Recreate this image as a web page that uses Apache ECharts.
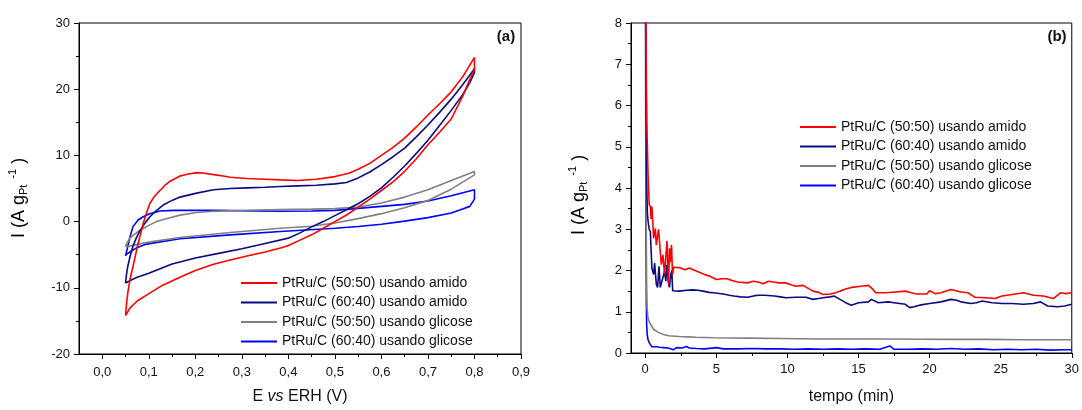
<!DOCTYPE html>
<html>
<head>
<meta charset="utf-8">
<script src="https://cdn.jsdelivr.net/npm/echarts@6/dist/echarts.min.js"></script>
<style>
html,body{margin:0;padding:0;background:#fff;}
#chart{width:1082px;height:410px;}
</style>
</head>
<body>
<div id="chart"></div>
<script>
// ---------- data ----------
const seriesNames = [
  'PtRu/C (50:50) usando amido',
  'PtRu/C (60:40) usando amido',
  'PtRu/C (50:50) usando glicose',
  'PtRu/C (60:40) usando glicose'
];
const seriesColors = ['#ff0000', '#0a0a82', '#808080', '#0000ff'];

// (a) cyclic voltammetry: [E (V vs ERH), I (A g_Pt^-1)]
const cvAmido5050 = [
  [0.050,-14.2],[0.052,-12.5],[0.055,-10.7],[0.060,-8.6],[0.066,-6.8],[0.077,-3.3],[0.088,-0.3],
  [0.095,1.3],[0.102,2.7],[0.112,3.8],[0.124,4.7],[0.135,5.5],[0.146,6.1],[0.167,6.9],[0.185,7.2],
  [0.203,7.4],[0.220,7.3],[0.239,7.1],[0.260,6.9],[0.275,6.7],[0.311,6.5],[0.350,6.4],[0.383,6.3],
  [0.420,6.2],[0.460,6.4],[0.500,6.8],[0.530,7.3],[0.550,7.9],[0.575,8.8],[0.600,10.0],[0.625,11.2],
  [0.650,12.6],[0.675,14.3],[0.700,16.1],[0.725,17.8],[0.750,19.6],[0.775,21.9],[0.800,24.8],
  [0.800,23.0],[0.790,21.5],[0.775,19.0],[0.750,15.5],[0.725,13.5],[0.700,11.6],[0.675,9.5],
  [0.650,7.6],[0.625,6.0],[0.600,4.7],[0.575,3.4],[0.550,2.2],[0.525,1.0],[0.500,0.0],[0.475,-1.0],
  [0.450,-2.0],[0.425,-2.8],[0.400,-3.6],[0.383,-4.0],[0.350,-4.6],[0.311,-5.2],[0.275,-5.8],
  [0.239,-6.45],[0.200,-7.4],[0.167,-8.4],[0.130,-9.6],[0.095,-11.1],[0.075,-12.0],[0.059,-13.1],
  [0.050,-14.2]
];
const cvAmido6040 = [
  [0.050,-9.3],[0.052,-8.0],[0.055,-6.7],[0.060,-5.2],[0.066,-3.7],[0.073,-2.5],[0.080,-1.5],
  [0.090,-0.4],[0.102,0.7],[0.115,1.6],[0.131,2.5],[0.150,3.2],[0.167,3.7],[0.185,4.0],[0.203,4.3],
  [0.239,4.8],[0.275,5.0],[0.311,5.1],[0.350,5.2],[0.383,5.3],[0.420,5.4],[0.460,5.5],[0.500,5.7],
  [0.525,5.9],[0.550,6.6],[0.575,7.5],[0.600,8.6],[0.625,9.8],[0.650,11.1],[0.675,12.8],[0.700,14.6],
  [0.725,16.5],[0.750,18.5],[0.775,20.7],[0.800,23.1],
  [0.800,22.5],[0.790,21.0],[0.775,19.2],[0.750,16.8],[0.725,14.5],[0.700,12.3],[0.675,10.3],
  [0.650,8.4],[0.625,6.7],[0.600,5.1],[0.575,3.8],[0.550,2.7],[0.525,1.8],[0.500,0.9],[0.475,0.0],
  [0.450,-0.8],[0.425,-1.7],[0.400,-2.5],[0.350,-3.3],[0.300,-4.1],[0.250,-4.8],[0.200,-5.5],
  [0.150,-6.4],[0.100,-7.8],[0.075,-8.4],[0.060,-8.9],[0.050,-9.3]
];
const cvGlicose5050 = [
  [0.050,-3.7],[0.059,-2.5],[0.077,-1.5],[0.095,-0.76],[0.116,0.0],[0.146,0.58],[0.167,0.98],
  [0.203,1.37],[0.239,1.57],[0.311,1.72],[0.383,1.81],[0.450,1.88],[0.500,1.96],[0.550,2.2],
  [0.600,2.8],[0.650,3.7],[0.700,4.8],[0.750,6.2],[0.800,7.55],
  [0.800,7.06],[0.750,4.9],[0.700,3.2],[0.650,2.1],[0.600,1.2],[0.550,0.45],[0.500,-0.2],
  [0.450,-0.7],[0.383,-1.0],[0.275,-1.65],[0.167,-2.4],[0.100,-3.1],[0.059,-3.7],[0.050,-3.8]
];
const cvGlicose6040 = [
  [0.050,-5.2],[0.055,-3.7],[0.060,-2.2],[0.066,-0.76],[0.077,0.24],[0.088,0.73],[0.102,1.2],
  [0.124,1.6],[0.153,1.7],[0.239,1.7],[0.383,1.57],[0.450,1.6],[0.500,1.7],[0.550,2.0],
  [0.600,2.3],[0.650,2.6],[0.700,3.1],[0.750,3.9],[0.800,4.8],
  [0.800,3.4],[0.790,2.3],[0.770,1.8],[0.750,1.3],[0.700,0.6],[0.650,0.07],[0.600,-0.4],
  [0.550,-0.75],[0.500,-1.0],[0.383,-1.5],[0.275,-2.0],[0.167,-2.6],[0.095,-3.4],[0.073,-4.0],
  [0.059,-4.6],[0.051,-5.0],[0.050,-5.2]
];

// (b) chronoamperometry: [tempo (min), I (A g_Pt^-1)]
const caAmido5050 = [
  [0.03,9.0],[0.08,6.5],[0.13,5.3],[0.20,4.3],[0.28,3.6],[0.36,3.55],[0.41,3.25],[0.47,3.55],
  [0.59,2.78],[0.71,3.02],[0.78,2.62],[0.94,3.0],[1.13,2.14],[1.25,2.38],[1.36,1.9],[1.53,2.72],
  [1.64,1.67],[1.71,2.54],[1.76,2.2],[1.85,2.62],[1.92,1.9],[2.0,2.08],[2.4,2.07],[2.8,2.02],
  [3.1,2.06],[3.5,2.0],[3.8,1.96],[4.2,1.9],[4.55,1.86],[5.0,1.78],[5.4,1.80],[5.76,1.80],
  [6.1,1.76],[6.5,1.72],[7.2,1.70],[7.6,1.74],[7.94,1.72],[8.3,1.68],[8.66,1.74],[9.0,1.72],
  [9.4,1.70],[9.87,1.70],[10.2,1.66],[10.6,1.62],[11.1,1.64],[11.5,1.56],[11.8,1.50],[12.2,1.47],
  [12.5,1.42],[13.0,1.43],[13.4,1.46],[13.7,1.50],[14.1,1.55],[14.5,1.59],[15.2,1.62],[15.7,1.64],
  [16.0,1.55],[16.2,1.46],[16.9,1.46],[17.6,1.48],[18.3,1.50],[18.7,1.46],[19.1,1.43],[19.8,1.43],
  [20.0,1.51],[20.4,1.44],[20.8,1.46],[21.5,1.54],[22.2,1.48],[22.7,1.46],[23.2,1.35],[23.9,1.34],
  [24.6,1.32],[25.1,1.38],[25.8,1.42],[26.6,1.46],[27.3,1.40],[28.0,1.38],[28.7,1.32],[29.2,1.46],
  [29.6,1.44],[30.0,1.46]
];
const caAmido6040 = [
  [0.02,9.0],[0.06,6.0],[0.10,4.2],[0.15,3.4],[0.20,3.2],[0.28,3.0],[0.36,2.94],[0.47,2.06],
  [0.59,1.9],[0.66,2.18],[0.78,1.67],[0.87,1.59],[0.97,2.1],[1.06,1.59],[1.20,1.62],[1.36,1.98],
  [1.45,1.74],[1.53,2.14],[1.62,1.75],[1.70,1.59],[1.80,1.9],[1.87,2.0],[1.93,1.51],[2.0,1.52],
  [2.4,1.50],[2.9,1.52],[3.34,1.53],[3.7,1.52],[4.06,1.50],[4.5,1.47],[4.8,1.46],[5.5,1.43],
  [5.9,1.40],[6.24,1.38],[6.7,1.36],[7.2,1.35],[7.7,1.39],[8.0,1.40],[8.4,1.40],[9.1,1.38],
  [9.5,1.36],[9.9,1.34],[10.6,1.35],[11.3,1.35],[11.8,1.30],[12.2,1.32],[12.5,1.34],[13.0,1.36],
  [13.3,1.38],[13.7,1.30],[14.1,1.22],[14.5,1.16],[15.0,1.22],[15.7,1.24],[15.9,1.30],[16.4,1.22],
  [17.1,1.24],[17.5,1.22],[17.9,1.20],[18.3,1.18],[18.6,1.10],[18.9,1.12],[19.3,1.16],[20.0,1.20],
  [20.8,1.24],[21.5,1.30],[21.9,1.28],[22.2,1.24],[22.9,1.20],[23.3,1.22],[23.7,1.26],[24.4,1.22],
  [25.1,1.20],[25.8,1.20],[26.6,1.18],[27.3,1.20],[27.8,1.24],[28.3,1.14],[29.0,1.12],[29.5,1.14],
  [30.0,1.18]
];
const caGlicose5050 = [
  [0.03,9.0],[0.06,5.0],[0.08,2.5],[0.10,1.6],[0.13,1.1],[0.19,0.86],[0.30,0.74],[0.44,0.66],
  [0.60,0.57],[0.92,0.50],[1.30,0.45],[1.65,0.42],[2.37,0.40],[3.0,0.39],[3.58,0.38],[4.79,0.37],
  [6.0,0.365],[7.2,0.36],[9.6,0.35],[12.05,0.34],[14.5,0.34],[16.9,0.34],[19.3,0.335],[21.7,0.33],
  [24.1,0.33],[26.6,0.32],[28.3,0.32],[30.0,0.32]
];
const caGlicose6040 = [
  [0.02,9.0],[0.04,5.0],[0.06,2.5],[0.08,1.2],[0.10,0.7],[0.14,0.45],[0.20,0.32],[0.30,0.24],
  [0.47,0.15],[0.60,0.18],[0.80,0.15],[1.0,0.14],[1.3,0.13],[1.6,0.12],[2.0,0.08],[2.2,0.13],
  [2.6,0.12],[2.9,0.16],[3.1,0.12],[3.6,0.11],[4.2,0.10],[5.0,0.13],[5.5,0.10],[6.5,0.10],
  [7.5,0.11],[8.5,0.10],[9.5,0.10],[10.5,0.09],[11.5,0.10],[12.5,0.09],[13.5,0.10],[14.5,0.09],
  [15.5,0.10],[16.5,0.09],[17.2,0.17],[17.5,0.09],[18.5,0.09],[19.5,0.10],[20.5,0.09],[21.5,0.11],
  [22.5,0.09],[23.5,0.10],[24.5,0.08],[25.5,0.09],[26.5,0.08],[27.5,0.09],[28.5,0.07],[29.5,0.08],
  [30.0,0.08]
];

// tick values
const cvMajorE = [0, 0.1, 0.2, 0.3, 0.4, 0.5, 0.6, 0.7, 0.8, 0.9];
const cvMinorE = [0.05, 0.15, 0.25, 0.35, 0.45, 0.55, 0.65, 0.75, 0.85];
const caMajorT = [0, 5, 10, 15, 20, 25, 30];
const caMinorT = [2.5, 7.5, 12.5, 17.5, 22.5, 27.5];

// ---------- chart ----------
const FONT = 'Liberation Sans, Arial, Helvetica, sans-serif';
const chart = echarts.init(document.getElementById('chart'), null, {renderer: 'canvas'});

const cvData = [cvAmido5050, cvAmido6040, cvGlicose5050, cvGlicose6040];
const caData = [caAmido5050, caAmido6040, caGlicose5050, caGlicose6040];

function lineSeries(name, data, idx, grid) {
  return {
    name: name, type: 'line', data: data,
    xAxisIndex: grid === 0 ? 0 : 2, yAxisIndex: grid,
    symbol: 'none', showSymbol: false, smooth: false, animation: false,
    lineStyle: {color: seriesColors[idx], width: 1.6},
    itemStyle: {color: seriesColors[idx]},
    z: 3 + (3 - idx)
  };
}

const series = [];
seriesNames.forEach((n, i) => series.push(lineSeries(n, cvData[i], i, 0)));
seriesNames.forEach((n, i) => series.push(lineSeries(n, caData[i], i, 1)));

const axisLineStyle = {onZero: false, lineStyle: {color: '#000', width: 1}};
const labelStyle = {color: '#111', fontSize: 13, fontFamily: FONT};

const yNameRich = {
  m: {fontSize: 18, fontFamily: FONT, color: '#111'},
  sub: {fontSize: 11, fontFamily: FONT, color: '#111', padding: [10, 0, 0, 0]},
  sup: {fontSize: 11, fontFamily: FONT, color: '#111', padding: [0, 0, 12, 3]}
};

function legendCfg(left, top) {
  return {
    data: seriesNames, left: left, top: top, orient: 'vertical',
    icon: 'rect', itemWidth: 36, itemHeight: 2, itemGap: 5.5, padding: 0,
    textStyle: {fontSize: 14, fontFamily: FONT, color: '#111', lineHeight: 14},
    selectedMode: false
  };
}

const option = {
  backgroundColor: '#fff',
  animation: false,
  grid: [
    {left: 79, top: 23, width: 442, height: 337, show: true, borderColor: '#000', borderWidth: 1, containLabel: false},
    {left: 631, top: 23, width: 441, height: 333, show: true, borderColor: '#000', borderWidth: 1, containLabel: false}
  ],
  legend: [legendCfg(241, 276), legendCfg(800, 120)],
  xAxis: [
    {
      gridIndex: 0, type: 'value', min: -0.05, max: 0.9, position: 'bottom',
      axisLine: axisLineStyle,
      axisTick: {show: true, inside: false, length: 5, customValues: cvMajorE, lineStyle: {color: '#000'}},
      axisLabel: Object.assign({}, labelStyle, {margin: 12, customValues: cvMajorE,
        formatter: v => v.toFixed(1).replace('.', ',')}),
      splitLine: {show: false},
      name: '{n|E }{i|vs}{n| ERH (V)}', nameLocation: 'middle', nameGap: 35,
      nameTextStyle: {rich: {n: {fontSize: 16, fontFamily: FONT, color: '#111'},
        i: {fontSize: 16, fontFamily: FONT, fontStyle: 'italic', color: '#111'}}}
    },
    {
      gridIndex: 0, type: 'value', min: -0.05, max: 0.9, position: 'bottom',
      axisLine: {show: false, onZero: false},
      axisTick: {show: true, inside: false, length: 3, customValues: cvMinorE, lineStyle: {color: '#000'}},
      axisLabel: {show: false}, splitLine: {show: false}
    },
    {
      gridIndex: 1, type: 'value', min: -1, max: 30, position: 'bottom',
      axisLine: axisLineStyle,
      axisTick: {show: true, inside: false, length: 5, customValues: caMajorT, lineStyle: {color: '#000'}},
      axisLabel: Object.assign({}, labelStyle, {margin: 10, customValues: caMajorT}),
      splitLine: {show: false},
      name: 'tempo (min)', nameLocation: 'middle', nameGap: 36,
      nameTextStyle: {fontSize: 16, fontFamily: FONT, color: '#111'}
    },
    {
      gridIndex: 1, type: 'value', min: -1, max: 30, position: 'bottom',
      axisLine: {show: false, onZero: false},
      axisTick: {show: true, inside: false, length: 3, customValues: caMinorT, lineStyle: {color: '#000'}},
      axisLabel: {show: false}, splitLine: {show: false}
    }
  ],
  yAxis: [
    {
      gridIndex: 0, type: 'value', min: -20, max: 30, interval: 10,
      axisLine: axisLineStyle,
      axisTick: {show: true, inside: false, length: 5, lineStyle: {color: '#000'}},
      minorTick: {show: true, splitNumber: 2, length: 3, lineStyle: {color: '#000'}},
      axisLabel: Object.assign({}, labelStyle, {margin: 9}),
      splitLine: {show: false}
    },
    {
      gridIndex: 1, type: 'value', min: 0, max: 8, interval: 1,
      axisLine: axisLineStyle,
      axisTick: {show: true, inside: false, length: 5, lineStyle: {color: '#000'}},
      minorTick: {show: true, splitNumber: 2, length: 3, lineStyle: {color: '#000'}},
      axisLabel: Object.assign({}, labelStyle, {margin: 9}),
      splitLine: {show: false}
    }
  ],
  graphic: [
    {type: 'text', x: 506, y: 37, z: 10,
     style: {text: '(a)', font: 'bold 15px ' + FONT, fill: '#111', align: 'center', verticalAlign: 'middle'}},
    {type: 'text', x: 1057, y: 37, z: 10,
     style: {text: '(b)', font: 'bold 15px ' + FONT, fill: '#111', align: 'center', verticalAlign: 'middle'}},
    {type: 'text', x: 19, y: 198, rotation: Math.PI / 2, z: 10,
     style: {text: '{m|I (A g}{sub|Pt}{sup| -1}{m| )}', rich: yNameRich, align: 'center', verticalAlign: 'middle'}},
    {type: 'text', x: 579, y: 195, rotation: Math.PI / 2, z: 10,
     style: {text: '{m|I (A g}{sub|Pt}{sup| -1}{m| )}', rich: yNameRich, align: 'center', verticalAlign: 'middle'}}
  ],
  series: series
};

chart.setOption(option);
</script>
</body>
</html>
